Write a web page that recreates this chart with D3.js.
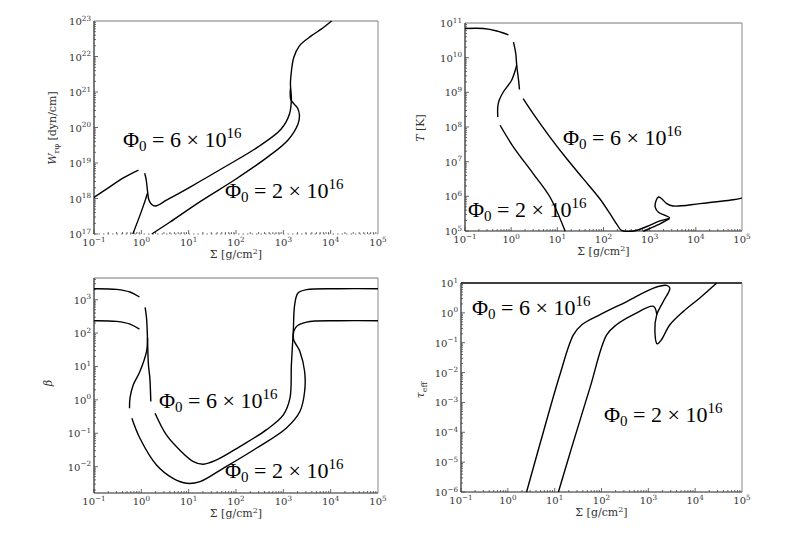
<!DOCTYPE html>
<html><head><meta charset="utf-8">
<script src="https://cdn.jsdelivr.net/npm/d3@7"></script>
<style>body{margin:0;background:#fff}svg{display:block}</style>
</head><body>
<svg id="c" width="800" height="533"></svg>
<script>
// ---- Data: points are [log10 Σ (g/cm^2), log10 value] ----
const xTickExps = [-1, 0, 1, 2, 3, 4, 5];

// Panel 1: W_rφ [dyn/cm]
const wTickExps = [17, 18, 19, 20, 21, 22, 23];
const wSeries = [
  [[-1,18.03],[-0.73,18.27],[-0.38,18.58],[-0.06,18.80]],
  [[0.07,18.71],[0.10,18.55],[0.13,18.22],[0.16,17.96],[0.22,17.83],[0.30,17.79],[0.54,17.96],[1.04,18.33],[1.75,18.88],[2.45,19.44],[2.95,19.95],[3.13,20.38],[3.17,20.80],[3.15,21.22],[3.16,21.45],[3.22,21.97],[3.34,22.30],[3.59,22.58],[3.80,22.77],[4.02,23.0]],
  [[-0.18,17.0],[-0.02,17.56],[0.08,17.94],[0.13,18.15]],
  [[0.22,17.0],[0.6,17.33],[1.25,17.92],[2.0,18.55],[2.7,19.2],[3.1,19.65],[3.31,20.10],[3.34,20.35],[3.30,20.55],[3.16,20.78],[3.15,21.1]]
];
// Panel 2: T [K]
const tTickExps = [5, 6, 7, 8, 9, 10, 11];
const tSeries = [
  [[-1,10.84],[-0.60,10.84],[-0.31,10.77],[-0.06,10.66]],
  [[0.05,10.45],[0.10,10.12],[0.12,9.78],[0.16,9.35],[0.18,9.08]],
  [[0.12,9.78],[0.01,9.35],[-0.17,9.01],[-0.26,8.77],[-0.29,8.58],[-0.29,8.29]],
  [[0.26,8.82],[0.48,8.38],[0.84,7.71],[1.20,7.09],[1.56,6.51],[1.92,5.93],[2.14,5.50],[2.29,5.19],[2.39,5.02],[2.65,5.0],[2.94,5.13],[3.22,5.29],[3.43,5.38],[3.33,5.45],[3.19,5.54],[3.12,5.69],[3.14,5.88],[3.19,5.98],[3.26,5.93],[3.37,5.79],[3.51,5.72],[4.09,5.79],[4.81,5.90],[5.0,5.95]],
  [[-0.24,8.05],[0.05,7.42],[0.48,6.65],[0.84,5.98],[1.17,4.99]],
  [[2.86,4.99],[3.15,5.16],[3.43,5.36]]
];
// Panel 3: β
const bTickExps = [-2, -1, 0, 1, 2, 3];
const bSeries = [
  [[-1,3.33],[-0.52,3.31],[-0.24,3.23],[-0.04,3.08]],
  [[-1,2.37],[-0.52,2.35],[-0.24,2.27],[-0.04,2.12]],
  [[0.08,2.77],[0.11,2.45],[0.13,1.85],[0.15,1.05],[0.18,0.65],[0.20,-0.05]],
  [[0.13,1.85],[0.11,1.45],[-0.03,0.85],[-0.17,0.45],[-0.24,0.05],[-0.25,-0.25]],
  [[0.29,-0.40],[0.53,-1.05],[0.81,-1.50],[1.10,-1.85],[1.31,-1.93],[1.59,-1.80],[2.08,-1.40],[2.64,-0.90],[3.0,-0.45],[3.14,0.05],[3.17,1.05],[3.21,2.05],[3.24,2.85],[3.31,3.2],[3.49,3.30],[4.19,3.33],[5,3.33]],
  [[-0.20,-0.55],[-0.03,-1.15],[0.32,-1.95],[0.67,-2.35],[0.96,-2.5],[1.24,-2.45],[1.73,-2.05],[2.43,-1.45],[3.06,-0.85],[3.35,-0.35],[3.45,0.25],[3.45,0.85],[3.35,1.45],[3.21,1.85],[3.28,2.2],[3.49,2.33],[4.19,2.37],[5,2.37]]
];
// Panel 4: τ_eff
const tauTickExps = [-6, -5, -4, -3, -2, -1, 0, 1];
const tauSeries = [
  [[0.40,-6.0],[0.76,-3.98],[1.11,-2.08],[1.40,-0.74],[1.58,-0.40],[1.97,-0.06],[2.54,0.38],[3.11,0.83],[3.39,0.92],[3.46,0.83],[3.32,0.38],[3.18,-0.06],[3.14,-0.62],[3.19,-1.04],[3.28,-0.90],[3.46,-0.40],[3.75,0.05],[4.10,0.50],[4.46,1.0]],
  [[1.08,-6.0],[1.40,-4.32],[1.75,-2.53],[2.11,-0.74],[2.32,-0.40],[2.68,-0.06],[3.11,0.22],[3.18,-0.06]]
];

const panels = [
  {x0:94,x1:378,y0:21,y1:234,yd:[17,23],yt:wTickExps,series:wSeries,
   ylabel:"W", ysub:"rφ", yrest:" [dyn/cm]", ylx:56, yly:128,
   labels:[{t:"6",x:123,y:147},{t:"2",x:225,y:198}], xlabY:258, dottedBottom:true},
  {x0:465,x1:742,y0:23,y1:231,yd:[5,11],yt:tTickExps,series:tSeries,
   ylabel:"T", ysub:"", yrest:" [K]", ylx:424, yly:128,
   labels:[{t:"6",x:563,y:145},{t:"2",x:468,y:217}], xlabY:255},
  {x0:94,x1:378,y0:278,y1:493,yd:[-2.79,3.65],yt:bTickExps,series:bSeries,
   ylabel:"β", ysub:"", yrest:"", ylx:52, yly:383,
   labels:[{t:"6",x:159,y:408},{t:"2",x:225,y:478}], xlabY:517},
  {x0:461,x1:742,y0:283,y1:492,yd:[-6,1],yt:tauTickExps,series:tauSeries,
   ylabel:"τ", ysub:"eff", yrest:"", ylx:424, yly:390,
   labels:[{t:"6",x:472,y:315},{t:"2",x:604,y:422}], xlabY:516, topBlack:true}
];

const svg = d3.select("#c");
const serif = "'DejaVu Serif', 'Liberation Serif', serif";
const mathSerif = "'Liberation Serif', 'DejaVu Serif', serif";

function powLabel(sel, e, fs){
  sel.append("tspan").text("10");
  sel.append("tspan").attr("dy", -fs*0.45).attr("font-size", fs*0.72).text(e < 0 ? "−" + (-e) : e);
}

panels.forEach((p, i) => {
  const x = d3.scaleLog().domain([1e-1, 1e5]).range([p.x0, p.x1]);
  const y = d3.scaleLog().domain([Math.pow(10,p.yd[0]), Math.pow(10,p.yd[1])]).range([p.y1, p.y0]);
  const g = svg.append("g");
  const cid = "clip" + i;
  g.append("clipPath").attr("id", cid).append("rect")
    .attr("x", p.x0).attr("y", p.y0 - 1).attr("width", p.x1 - p.x0).attr("height", p.y1 - p.y0 + 2);

  // frame
  g.append("line").attr("x1",p.x0).attr("x2",p.x1).attr("y1",p.y0).attr("y2",p.y0)
    .attr("stroke", p.topBlack ? "#000" : "#777").attr("stroke-width", p.topBlack ? 1.5 : 1);
  g.append("line").attr("x1",p.x1).attr("x2",p.x1).attr("y1",p.y0).attr("y2",p.y1).attr("stroke","#888");
  const bl = g.append("line").attr("x1",p.x0).attr("x2",p.x1).attr("y1",p.y1).attr("y2",p.y1);
  if (p.dottedBottom) bl.attr("stroke","#777").attr("stroke-width",1.2).attr("stroke-dasharray","1.5,3");
  else bl.attr("stroke","#222").attr("stroke-width",1);
  g.append("line").attr("x1",p.x0).attr("x2",p.x0).attr("y1",p.y0).attr("y2",p.y1).attr("stroke","#222").attr("stroke-width",1.2);

  // minor/major ticks x
  for (let e = -1; e < 5; e++) {
    for (let m = 1; m < 10; m++) {
      const v = m * Math.pow(10, e);
      const len = m === 1 ? 4 : 2;
      g.append("line").attr("x1", x(v)).attr("x2", x(v)).attr("y1", p.y1).attr("y2", p.y1 - len)
        .attr("stroke", "#444").attr("stroke-width", 0.8);
    }
  }
  // minor/major ticks y
  const ey0 = Math.floor(p.yd[0]), ey1 = Math.ceil(p.yd[1]);
  for (let e = ey0; e < ey1; e++) {
    for (let m = 1; m < 10; m++) {
      const v = m * Math.pow(10, e);
      if (y(v) > p.y1 + 0.1 || y(v) < p.y0 - 0.1) continue;
      const len = m === 1 ? 4 : 2;
      g.append("line").attr("y1", y(v)).attr("y2", y(v)).attr("x1", p.x0).attr("x2", p.x0 + len)
        .attr("stroke", "#444").attr("stroke-width", 0.8);
    }
  }

  // x tick labels
  xTickExps.forEach(e => {
    const t = g.append("text").attr("x", x(Math.pow(10, e))).attr("y", p.y1 + 12)
      .attr("text-anchor", "middle").attr("font-family", serif).attr("font-size", 10).attr("fill", "#333");
    powLabel(t, e, 10);
  });
  // y tick labels
  p.yt.forEach(e => {
    const t = g.append("text").attr("x", p.x0 - 3).attr("y", y(Math.pow(10, e)) + 4)
      .attr("text-anchor", "end").attr("font-family", serif).attr("font-size", 10).attr("fill", "#333");
    powLabel(t, e, 10);
  });

  // axis titles
  const xl = g.append("text").attr("x", (p.x0 + p.x1) / 2).attr("y", p.xlabY)
    .attr("text-anchor", "middle").attr("font-family", serif).attr("font-size", 11).attr("fill", "#333");
  xl.append("tspan").text("Σ [g/cm");
  xl.append("tspan").attr("dy", -4).attr("font-size", 8).text("2");
  xl.append("tspan").attr("dy", 4).text("]");

  const yl = g.append("text").attr("transform", `translate(${p.ylx},${p.yly}) rotate(-90)`)
    .attr("text-anchor", "middle").attr("font-family", serif).attr("font-size", 11).attr("fill", "#333");
  yl.append("tspan").attr("font-style", "italic").text(p.ylabel);
  if (p.ysub) {
    yl.append("tspan").attr("dy", 3).attr("font-size", 8).text(p.ysub);
    yl.append("tspan").attr("dy", -3).text(p.yrest);
  } else if (p.yrest) {
    yl.append("tspan").text(p.yrest);
  }

  // curves
  const line = d3.line()
    .x(d => x(Math.pow(10, d[0])))
    .y(d => y(Math.pow(10, d[1])))
    .curve(d3.curveCatmullRom.alpha(0.5));
  const cg = g.append("g").attr("clip-path", `url(#${cid})`);
  p.series.forEach(s => {
    cg.append("path").attr("d", line(s)).attr("fill", "none").attr("stroke", "#000").attr("stroke-width", 1.4);
  });

  // in-plot labels
  p.labels.forEach(l => {
    const t = g.append("text").attr("x", l.x).attr("y", l.y)
      .attr("font-family", mathSerif).attr("font-size", 22).attr("fill", "#000");
    t.append("tspan").text("Φ");
    t.append("tspan").attr("dy", 4).attr("font-size", 15).text("0");
    t.append("tspan").attr("dy", -4).text(" = " + l.t + " × 10");
    t.append("tspan").attr("dy", -9).attr("font-size", 15).text("16");
  });
});
</script>
</body></html>
